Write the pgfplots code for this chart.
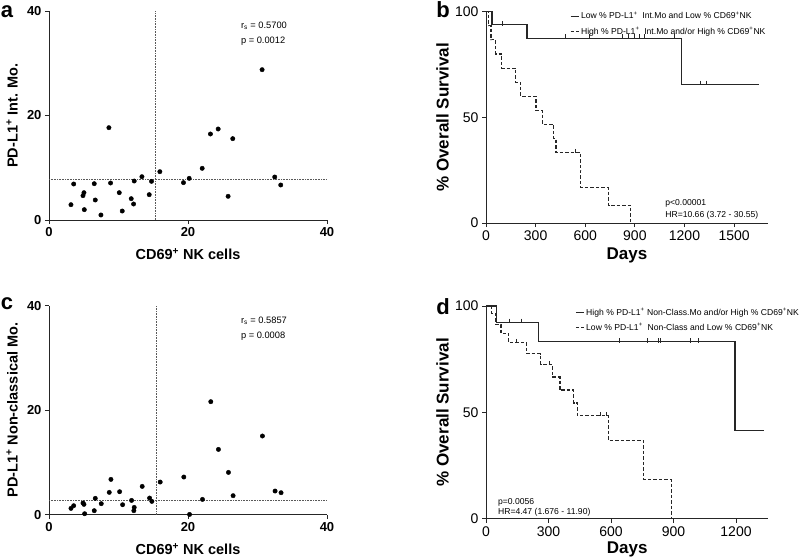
\documentclass[border=0pt]{standalone}
\usepackage{pgfplots}
\pgfplotsset{compat=1.18}
\usepackage{fontspec}
\setmainfont{Liberation Sans}

\tikzset{
 ann/.style={anchor=base west, inner sep=0pt, font=\fontsize{9.3}{10}\selectfont},
 sann/.style={anchor=base west, inner sep=0pt, font=\fontsize{8.6}{9}\selectfont}
}
\pgfplotsset{
 myax/.style={scale only axis, axis lines=left,
   axis line style={-, line width=0.9pt, black!85},
   tick align=outside, major tick length=4pt,
   tick style={line width=0.9pt, black!85},
   /pgf/number format/assume math mode=true,
   /pgf/number format/1000 sep={}, clip=false},
 scat/.style={myax, width=278pt, height=209pt,
   xmin=0,xmax=40,ymin=0,ymax=40, xtick={0,20,40}, ytick={0,20,40},
   ticklabel style={font=\bfseries\fontsize{13}{13}\selectfont},
   xlabel={CD69\textsuperscript{+} NK cells},
   label style={font=\bfseries\fontsize{14.5}{15}\selectfont},
   xlabel style={at={(axis description cs:0.5,-0.19)}, anchor=base},
   ylabel style={at={(axis description cs:-0.133,0.5)}, anchor=center}},
 surv/.style={myax, ymin=0,ymax=100, ytick={0,50,100},
   ticklabel style={font=\fontsize{14}{14}\selectfont},
   xlabel={Days}, ylabel={\% Overall Survival},
   label style={font=\bfseries\fontsize{17}{18}\selectfont},
   ylabel style={at={(axis description cs:-0.154,0.5)}, anchor=center},
   legend style={draw=none, fill=none, font=\fontsize{8.6}{9.8}\selectfont, row sep=2.3pt,
     cells={anchor=west}},
   legend image code/.code={\draw[#1, line width=0.9pt] (0pt,0pt) -- (8pt,0pt);}},
 dot/.style={only marks, mark=*, mark size=2.2pt, black},
 ref/.style={densely dotted, black!65, line width=0.6pt},
 sline/.style={const plot, black!85, line width=1.1pt},
 dline/.style={const plot, black!85, line width=1.1pt, dash pattern=on 3.5pt off 2pt},
 cens/.style={only marks, mark=|, mark size=2.2pt, black!85, mark options={yshift=1.5pt, line width=0.8pt}}
}

\begin{document}
\begin{tikzpicture}
\path[use as bounding box] (0,0) rectangle (800pt,558pt);

% ---------- panel a ----------
\begin{axis}[scat, at={(49pt,338pt)}, anchor=south west,
  ylabel={PD-L1\textsuperscript{+} Int. Mo.}]
\addplot[ref] coordinates {(15.33,0)(15.33,40)};
\addplot[ref] coordinates {(0,7.78)(40,7.78)};
\addplot[dot] table {
x y
3.16 2.93
3.55 6.89
4.89 4.66
5.03 5.23
5.08 1.98
6.51 6.95
6.66 3.83
7.47 0.96
8.62 17.67
8.86 7.08
10.11 5.23
10.54 1.72
11.83 4.08
12.17 3.06
12.26 7.46
13.37 8.29
14.42 4.85
14.75 7.40
15.95 9.25
19.35 7.15
20.17 7.97
22.04 9.89
23.23 16.46
24.34 17.42
25.77 4.53
26.44 15.57
30.66 28.77
32.48 8.23
33.34 6.70
};
\node[ann] at (axis cs:27.6,36.6) {r\textsubscript{s} = 0.5700};
\node[ann] at (axis cs:27.6,33.7) {p = 0.0012};
\end{axis}

% ---------- panel c ----------
\begin{axis}[scat, at={(49pt,43.3pt)}, anchor=south west,
  ylabel={PD-L1\textsuperscript{+} Non-classical Mo.}]
\addplot[ref] coordinates {(15.38,0)(15.38,40)};
\addplot[ref] coordinates {(0,2.68)(40,2.68)};
\addplot[dot] table {
x y
3.16 1.21
3.55 1.72
4.89 2.23
5.03 1.98
5.13 0.19
6.51 0.77
6.66 3.13
7.52 2.11
8.67 4.27
8.91 6.76
10.16 4.40
10.59 1.91
11.88 2.74
12.26 1.40
12.21 0.77
13.41 5.42
14.47 3.19
14.80 2.55
16.00 6.25
19.40 7.21
20.22 0.05
22.08 2.93
23.28 21.63
24.38 12.50
25.82 8.10
26.49 3.64
30.71 15.06
32.53 4.53
33.39 4.21
};
\node[ann] at (axis cs:27.6,36.6) {r\textsubscript{s} = 0.5857};
\node[ann] at (axis cs:27.6,33.8) {p = 0.0008};
\end{axis}

% ---------- panel b ----------
\begin{axis}[surv, at={(486pt,335pt)}, anchor=south west, width=282pt, height=211.3pt,
  xmin=0, xmax=1705, xtick={0,300,600,900,1200,1500},
  xlabel style={at={(axis description cs:0.5,-0.175)}, anchor=base},
  legend style={at={(0.287,1.02)}, anchor=north west}]
\addplot[sline] coordinates {(0,100)(36,93.75)(248,87.5)(1184,65.6)(1651,65.6)};
\addlegendentry{Low \% PD-L1\textsuperscript{+}\ \ Int.Mo and Low \% CD69\textsuperscript{+}NK}
\addplot[dline] coordinates {(0,100)(16,93.3)(30,86.7)(60,80)(95,73.3)(181,66.7)(211,60)(302,53.3)(342,46.7)(410,40)(423,33.3)(570,25)(574,16.7)(741,8.3)(876,0)};
\addlegendentry{High \% PD-L1\textsuperscript{+}\ \ Int.Mo and/or High \% CD69\textsuperscript{+}NK}
\addplot[cens, forget plot] coordinates {(101,93.75)(483,87.5)(624,87.5)(827,87.5)(862,87.5)(896,87.5)(928,87.5)(958,87.5)(1141,87.5)(1298,65.6)(1335,65.6)};
\addplot[cens, forget plot] coordinates {(541,33.3)};
\node[sann] at (axis cs:1083,8.5) {p<0.00001};
\node[sann] at (axis cs:1083,2.4) {HR=10.66 (3.72 - 30.55)};
\end{axis}

% ---------- panel d ----------
\begin{axis}[surv, at={(486pt,39.3pt)}, anchor=south west, width=282.3pt, height=212.7pt,
  xmin=0, xmax=1355, xtick={0,300,600,900,1200},
  xlabel style={at={(axis description cs:0.5,-0.163)}, anchor=base},
  legend style={at={(0.305,1.01)}, anchor=north west}]
\addplot[sline] coordinates {(0,100)(50,92.3)(250,83.1)(1195,41.5)(1336,41.5)};
\addlegendentry{High \% PD-L1\textsuperscript{+} Non-Class.Mo and/or High \% CD69\textsuperscript{+}NK}
\addplot[dline] coordinates {(0,100)(27,96.6)(46,91.4)(72,87.2)(110,82.8)(195,77.5)(262,72.5)(317,66.6)(355,60.5)(421,54.4)(437,48.4)(589,36.6)(757,18.4)(890,0)};
\addlegendentry{Low \% PD-L1\textsuperscript{+}\ \ Non-Class and Low \% CD69\textsuperscript{+}NK}
\addplot[cens, forget plot] coordinates {(112,92.3)(171,92.3)(640,83.1)(773,83.1)(829,83.1)(835,83.1)(982,83.1)(1021,83.1)};
\addplot[cens, forget plot] coordinates {(147,82.8)(304,72.5)(549,48.4)(579,48.4)};
\node[sann] at (axis cs:57,6.9) {p=0.0056};
\node[sann] at (axis cs:57,2.2) {HR=4.47 (1.676 - 11.90)};
\end{axis}

% panel letters
\node[font=\bfseries\fontsize{22}{22}\selectfont] at (7pt,546.5pt) {a};
\node[font=\bfseries\fontsize{22}{22}\selectfont] at (443pt,548pt) {b};
\node[font=\bfseries\fontsize{22}{22}\selectfont] at (7pt,254pt) {c};
\node[font=\bfseries\fontsize{22}{22}\selectfont] at (443pt,251.5pt) {d};
\end{tikzpicture}
\end{document}
